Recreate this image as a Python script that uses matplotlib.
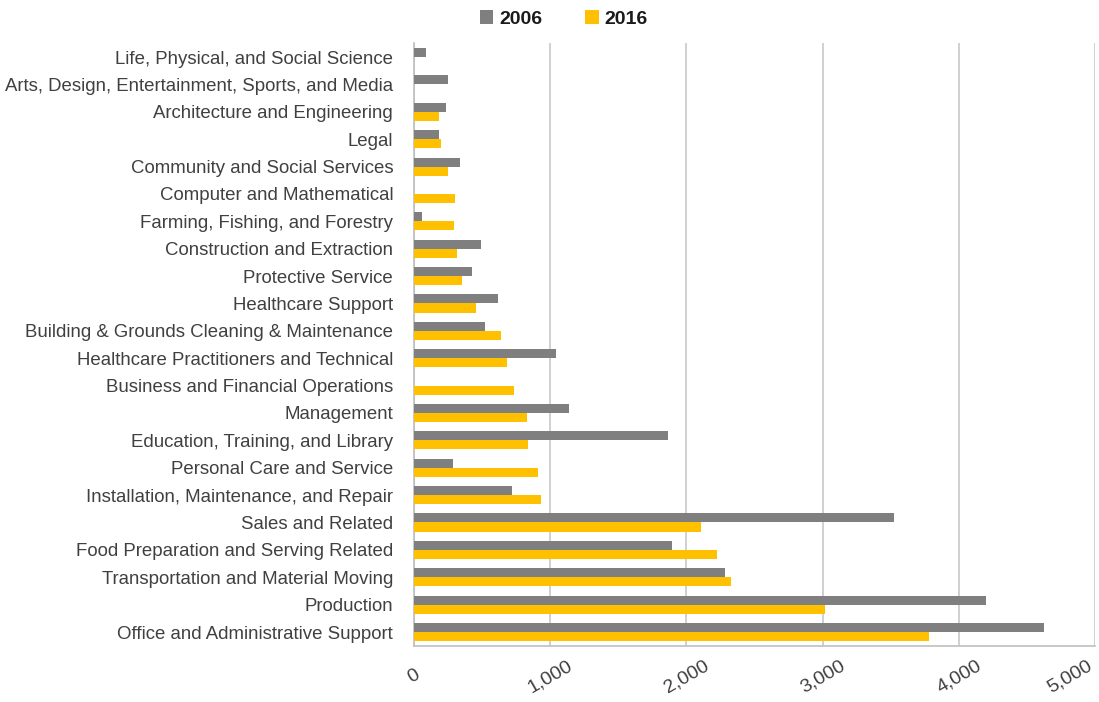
import matplotlib.pyplot as plt
import numpy as np

plt.rcParams['font.family'] = ['Liberation Sans', 'DejaVu Sans']

categories = [
    "Life, Physical, and Social Science",
    "Arts, Design, Entertainment, Sports, and Media",
    "Architecture and Engineering",
    "Legal",
    "Community and Social Services",
    "Computer and Mathematical",
    "Farming, Fishing, and Forestry",
    "Construction and Extraction",
    "Protective Service",
    "Healthcare Support",
    "Building & Grounds Cleaning & Maintenance",
    "Healthcare Practitioners and Technical",
    "Business and Financial Operations",
    "Management",
    "Education, Training, and Library",
    "Personal Care and Service",
    "Installation, Maintenance, and Repair",
    "Sales and Related",
    "Food Preparation and Serving Related",
    "Transportation and Material Moving",
    "Production",
    "Office and Administrative Support",
]
values_2006 = [85, 250, 237, 181, 335, 0, 61, 490, 428, 617, 519, 1046, 0,
               1136, 1862, 287, 717, 3527, 1897, 2281, 4200, 4624]
values_2016 = [0, 0, 181, 196, 247, 299, 296, 316, 355, 458, 639, 686, 735,
               831, 835, 914, 936, 2107, 2228, 2330, 3019, 3784]
x_ticks = [0, 1000, 2000, 3000, 4000, 5000]
x_tick_labels = ["0", "1,000", "2,000", "3,000", "4,000", "5,000"]

GRAY = "#7f7f7f"
GOLD = "#ffc000"
TEXT = "#404040"

fig = plt.figure(figsize=(10.99, 7.02), dpi=100)
ax = fig.add_axes([0.3767, 0.0802, 0.6197, 0.858])

y = np.arange(len(categories))
h = 0.33
ax.barh(y - h / 2, values_2006, height=h, color=GRAY, label="2006", zorder=3)
ax.barh(y + h / 2, values_2016, height=h, color=GOLD, label="2016", zorder=3)

ax.set_ylim(len(categories) - 0.5, -0.5)
ax.set_yticks(y)
ax.set_yticklabels(categories, fontsize=13.4, color=TEXT)
ax.tick_params(axis='y', length=0, pad=15)

ax.set_xlim(0, 5000)
ax.set_xticks(x_ticks)
ax.set_xticklabels(x_tick_labels, fontsize=14, color=TEXT, rotation=30,
                   ha='center', va='center')
ax.tick_params(axis='x', length=0, pad=22)
# keep the last tick label inside the figure
ax.get_xticklabels()[-1].set_ha('right')

ax.grid(axis='x', color='#d0d0d0', linewidth=1.4, zorder=0)
for side in ['top', 'right']:
    ax.spines[side].set_visible(False)
for side in ['left', 'bottom']:
    ax.spines[side].set_color('#bfbfbf')
    ax.spines[side].set_linewidth(1.2)

leg = fig.legend(loc='center', bbox_to_anchor=(0.513, 0.973), ncol=2,
                 frameon=False, handlelength=0.7, handleheight=0.7,
                 handletextpad=0.3, columnspacing=2.2,
                 prop={'weight': 'bold', 'size': 14})
for t in leg.get_texts():
    t.set_color('#1a1a1a')

fig.savefig("out.png", dpi=100)
